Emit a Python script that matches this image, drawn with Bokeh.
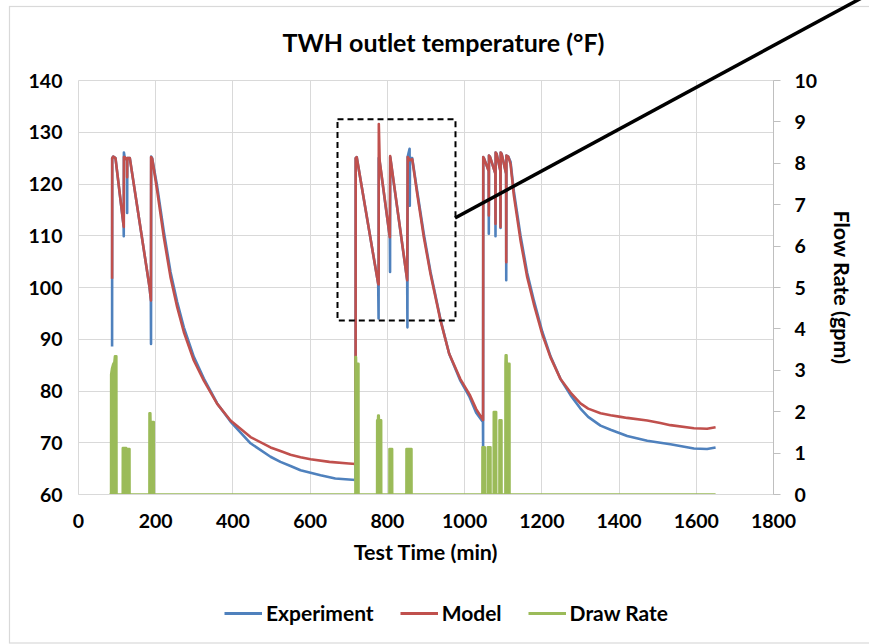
from bokeh.plotting import figure
from bokeh.models import (Range1d, LinearAxis, Legend, LegendItem, BoxAnnotation,
                          FixedTicker, Div)
from bokeh.embed import file_html
from bokeh.resources import INLINE

# ---------------- data ----------------
exp_t = [87.0, 87.3, 90.0, 95.8, 116.9, 117.2, 117.6, 119.5, 125.7, 126.0, 126.4, 132.9,
         183.9, 187.4, 187.8, 188.3, 190.8, 203.8, 221.0, 238.3, 255.6, 272.8, 298.7,
         324.6, 359.2, 393.7, 445.5, 497.3, 523.0, 549.1, 575.0, 600.9, 626.8, 665.0,
         700.0, 717.6,
         717.9, 720.5, 776.2, 777.2, 777.6, 780.0, 806.3, 806.9, 807.3, 851.3, 851.9,
         852.4, 857.5, 858.0, 858.5, 864.3, 877.2, 894.4, 911.7, 937.6, 960.0, 989.0,
         1013.0, 1030.0, 1047.5, 1047.9, 1048.3,
         1050.0, 1062.4, 1062.7, 1063.1, 1066.0, 1079.7, 1080.0, 1080.4, 1083.0, 1092.7,
         1093.0, 1093.4, 1096.0, 1107.5, 1107.8, 1108.3, 1113.0, 1118.9, 1127.5, 1144.8,
         1162.1, 1179.3, 1201.0, 1222.5, 1248.4, 1274.3, 1300.0, 1320.0, 1352.0, 1378.0,
         1404.0, 1421.0, 1473.0, 1507.0, 1533.0, 1594.0, 1628.0, 1650.0]
exp_y = [88.6, 125.0, 125.3, 125.0, 111.8, 109.9, 126.1, 125.2, 124.6, 114.4, 125.0, 125.0,
         100.1, 97.6, 89.1, 125.3, 125.0, 119.5, 110.8, 103.0, 97.2, 92.3, 86.6,
         82.4, 77.6, 74.1, 69.9, 67.3, 66.3, 65.5, 64.7, 64.2, 63.7, 63.1,
         62.9, 62.8,
         125.0, 125.2, 100.7, 94.0, 125.0, 124.3, 109.7, 103.0, 125.2, 101.4, 92.3,
         125.2, 126.8, 115.8, 125.0, 125.0, 118.6, 110.3, 103.0, 93.8, 87.2, 82.0,
         78.8, 75.8, 74.0, 69.1, 125.2,
         125.0, 122.5, 110.4, 125.5, 125.2, 122.0, 109.9, 126.1, 125.8, 122.5,
         111.5, 126.1, 125.8, 122.0, 101.4, 125.5, 125.3, 124.3, 118.6, 110.0,
         102.8, 97.5, 91.5, 86.7, 82.3, 79.2, 76.6, 75.0, 73.3, 72.5,
         71.8, 71.3, 70.4, 70.0, 69.7, 68.9, 68.8, 69.1]

mod_t = [87.0, 87.3, 90.0, 95.8, 117.2, 117.6, 119.5, 125.7, 126.0, 126.4, 132.9,
         183.9, 187.6, 188.0, 190.8, 203.8, 221.0, 238.3, 255.6, 272.8, 298.7,
         324.6, 359.2, 393.7, 445.5, 497.3, 523.0, 549.1, 575.0, 600.9, 650.0,
         700.0, 717.6,
         717.9, 720.5, 776.2, 777.4, 777.8, 780.0, 806.3, 807.2, 851.3, 852.6, 858.0,
         864.3, 877.2, 894.4, 911.7, 937.6, 960.0, 989.0, 1013.0, 1030.0, 1047.8, 1048.3,
         1050.0, 1062.4, 1062.7, 1063.1, 1066.0, 1079.7, 1080.0, 1080.4, 1083.0, 1092.7,
         1093.0, 1093.4, 1096.0, 1107.5, 1107.8, 1108.3, 1113.0, 1118.9, 1127.5, 1144.8,
         1162.1, 1179.3, 1201.0, 1222.5, 1248.4, 1274.3, 1300.0, 1320.0, 1352.0, 1378.0,
         1404.0, 1421.0, 1473.0, 1507.0, 1533.0, 1594.0, 1628.0, 1650.0]
mod_y = [101.7, 125.0, 125.3, 125.0, 111.7, 125.2, 125.2, 124.6, 121.3, 125.0, 125.0,
         100.1, 97.5, 125.2, 124.9, 118.7, 109.7, 102.0, 96.2, 91.4, 85.9,
         82.0, 77.5, 74.3, 71.1, 69.1, 68.4, 67.7, 67.2, 66.8, 66.3,
         66.0, 65.9,
         125.0, 125.2, 100.7, 100.6, 131.6, 124.5, 109.7, 125.4, 101.4, 125.2, 124.6,
         124.8, 118.1, 109.7, 102.6, 93.6, 87.2, 82.3, 79.3, 76.5, 74.4, 125.2,
         125.0, 122.5, 113.9, 125.5, 125.2, 122.0, 112.3, 126.1, 125.8, 122.5,
         111.7, 126.1, 125.8, 122.0, 104.9, 125.5, 125.3, 123.9, 117.8, 109.1,
         102.0, 96.8, 91.0, 86.5, 82.3, 79.7, 77.6, 76.6, 75.7, 75.3,
         75.0, 74.8, 74.3, 73.8, 73.4, 72.8, 72.7, 73.0]

draw_t = [80.0, 84.4, 84.6, 87.0, 90.0, 93.0, 94.5, 98.0, 98.4,
          114.6, 114.8, 123.4, 123.6, 125.4, 125.6, 132.0, 132.2,
          183.7, 183.9, 186.0, 186.4, 194.9, 195.1,
          717.2, 717.4, 718.6, 719.0, 725.0, 725.2,
          773.4, 773.6, 775.8, 776.2, 777.6, 778.0, 783.8, 784.0,
          805.3, 805.5, 812.2, 812.4,
          849.3, 849.5, 862.3, 862.5,
          1046.1, 1046.3, 1052.1, 1052.3,
          1059.9, 1060.1, 1066.9, 1067.1,
          1075.4, 1075.6, 1081.6, 1081.8,
          1090.2, 1090.4, 1095.4, 1095.6,
          1105.7, 1105.9, 1106.5, 1108.5, 1109.0, 1116.1, 1116.3,
          1650.0]
draw_gpm = [0.0, 0.0, 2.9, 3.05, 3.15, 3.2, 3.34, 3.34, 0.0,
            0.0, 1.12, 1.12, 0.0, 0.0, 1.1, 1.1, 0.0,
            0.0, 1.96, 1.96, 1.75, 1.75, 0.0,
            0.0, 3.32, 3.32, 3.16, 3.16, 0.0,
            0.0, 1.79, 1.79, 1.91, 1.91, 1.79, 1.79, 0.0,
            0.0, 1.1, 1.1, 0.0,
            0.0, 1.1, 1.1, 0.0,
            0.0, 1.14, 1.14, 0.0,
            0.0, 1.14, 1.14, 0.0,
            0.0, 1.99, 1.99, 0.0,
            0.0, 1.79, 1.79, 0.0,
            0.0, 3.16, 3.36, 3.36, 3.16, 3.16, 0.0,
            0.0]

series_names = ["Experiment", "Model", "Draw Rate"]
x_ticks = list(range(0, 1801, 200))
temp_ticks = list(range(60, 141, 10))
flow_ticks = list(range(0, 11))

# annotation geometry: zoom box (data units); leader line and chart box (page pixels)
box_t = (670.8, 976.4)
box_temp = (93.6, 132.5)
leader_px = (455, 218, 880, -12)
chart_box_px = (9.5, 6.5, 900, 636.5)

FONT = "Lato"
BLUE, RED, GREEN = "#4F81BD", "#C0504D", "#9BBB59"
GRID = "#D9D9D9"
W, H = 869, 644

p = figure(width=W, height=H, output_backend="svg", toolbar_location=None,
           x_range=Range1d(0, 1800), y_range=Range1d(60, 140),
           min_border_left=78, min_border_right=96, min_border_top=80,
           min_border_bottom=150)
p.extra_y_ranges = {"flow": Range1d(0, 10)}
p.background_fill_color = "white"
p.border_fill_color = "white"
p.outline_line_color = GRID

p.title.text = "TWH outlet temperature (°F)"
p.title.align = "left"
p.title.offset = 204
p.title.standoff = 48
p.title.text_font = FONT
p.title.text_font_style = "bold"
p.title.text_font_size = "25px"
p.title.text_color = "black"

# left axis
ly = p.yaxis[0]
ly.ticker = FixedTicker(ticks=temp_ticks)
ly.axis_line_color = None
ly.major_tick_line_color = None
ly.minor_tick_line_color = None
ly.major_tick_out = 0
ly.major_label_standoff = 16
ly.major_label_text_font = FONT
ly.major_label_text_font_style = "bold"
ly.major_label_text_font_size = "19.5px"
ly.major_label_text_color = "black"

# bottom axis
bx = p.xaxis[0]
bx.ticker = FixedTicker(ticks=x_ticks)
bx.axis_line_color = GRID
bx.major_tick_line_color = None
bx.minor_tick_line_color = None
bx.major_tick_out = 0
bx.major_label_standoff = 19
bx.major_label_text_font = FONT
bx.major_label_text_font_style = "bold"
bx.major_label_text_font_size = "19.5px"
bx.major_label_text_color = "black"
bx.axis_label = "Test Time (min)"
bx.axis_label_text_font = FONT
bx.axis_label_text_font_style = "bold"
bx.axis_label_text_font_size = "21.5px"
bx.axis_label_text_color = "black"
bx.axis_label_standoff = 8

# right axis
ry = LinearAxis(y_range_name="flow", ticker=FixedTicker(ticks=flow_ticks),
                axis_label="Flow Rate (gpm)")
ry.axis_line_color = "#BFBFBF"
ry.major_tick_line_color = "#BFBFBF"
ry.minor_tick_line_color = None
ry.major_tick_out = 7
ry.major_tick_in = 0
ry.major_label_standoff = 14
ry.major_label_text_font = FONT
ry.major_label_text_font_style = "bold"
ry.major_label_text_font_size = "19.5px"
ry.major_label_text_color = "black"
ry.axis_label_text_font = FONT
ry.axis_label_text_font_style = "bold"
ry.axis_label_text_font_size = "21.5px"
ry.axis_label_text_color = "black"
ry.axis_label_standoff = 9
p.add_layout(ry, "right")

p.xgrid.grid_line_color = GRID
p.ygrid.grid_line_color = GRID

p.line(exp_t, exp_y, line_color=BLUE, line_width=2.6, line_join="round")
p.line(mod_t, mod_y, line_color=RED, line_width=2.6, line_join="round")
p.varea(x=draw_t, y1=[0.0] * len(draw_t), y2=draw_gpm, fill_color=GREEN,
        y_range_name="flow")
p.line(draw_t, draw_gpm, line_color=GREEN, line_width=2.6, line_join="round",
       y_range_name="flow")

p.add_layout(BoxAnnotation(left=box_t[0], right=box_t[1], bottom=box_temp[0], top=box_temp[1],
                           fill_color=None, fill_alpha=0, line_color="black", line_alpha=1,
                           line_width=2, line_dash="6 4"))

# legend strip: its own transparent figure, placed below the axis title.
# Its sample renderers sit outside its (0..1) ranges, so only the legend shows.
lg = figure(width=W, height=50, output_backend="svg", toolbar_location=None,
            min_border=0, x_axis_type=None, y_axis_type=None,
            x_range=Range1d(0, 1), y_range=Range1d(0, 1))
lg.outline_line_color = None
lg.background_fill_alpha = 0
lg.border_fill_alpha = 0
lg.grid.visible = False
items = []
for name, col in zip(series_names, [BLUE, RED, GREEN]):
    rr = lg.line([5, 6], [5, 6], line_color=col, line_width=3)
    items.append(LegendItem(label=name, renderers=[rr], index=0))
legend = Legend(items=items, orientation="horizontal", location=(224, 12),
                glyph_width=38, glyph_height=20, label_standoff=4, spacing=26,
                padding=0, margin=0, border_line_color=None,
                background_fill_alpha=0,
                label_text_font=FONT, label_text_font_style="bold",
                label_text_font_size="21px", label_text_color="black")
lg.add_layout(legend, "center")
lg.styles = {"position": "absolute", "left": "0px", "top": "587px"}

# leader line and outer chart frame run outside the plotting area: drawn as an
# absolutely positioned SVG overlay in page pixels
svg = (f'<svg xmlns="http://www.w3.org/2000/svg" width="{W}" height="{H}">'
       f'<rect x="{chart_box_px[0]}" y="{chart_box_px[1]}" width="{chart_box_px[2]}" '
       f'height="{chart_box_px[3]}" fill="none" stroke="{GRID}" stroke-width="1.2"/>'
       f'<line x1="{leader_px[0]}" y1="{leader_px[1]}" x2="{leader_px[2]}" y2="{leader_px[3]}" '
       f'stroke="black" stroke-width="3.5"/></svg>')
ov = Div(text=svg, width=W, height=H, margin=(0, 0, 0, 0),
         styles={"position": "absolute", "left": "0px", "top": "0px",
                 "pointer-events": "none"})

open("out.html", "w").write(file_html([p, lg, ov], INLINE))
